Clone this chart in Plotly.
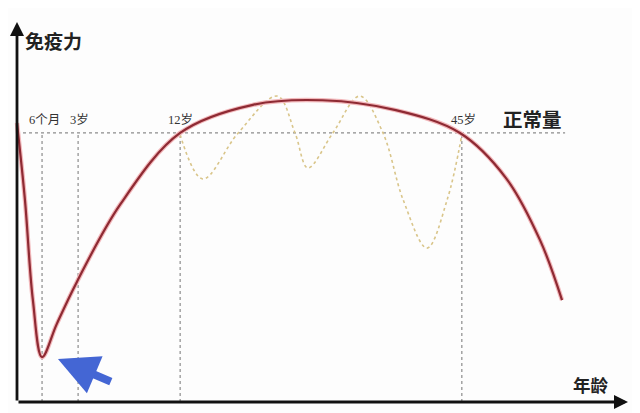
import plotly.graph_objects as go

# --- データ（横軸: 年齢の相対位置 0-100、縦軸: 免疫力 0-100）---

immune_x = [0.0, 1.3, 2.6, 4.1, 6.5, 9.8, 16.9, 26.7, 38.6, 50.0, 62.0, 72.5, 80.0, 85.6, 89.2]
immune_y = [73.4, 53.2, 26.8, 11.8, 20.5, 31.6, 52.0, 70.8, 78.2, 79.4, 76.8, 70.8, 59.0, 42.6, 26.8]

wave_x = [26.7, 30.4, 36.2, 42.6, 45.5, 47.6, 51.7, 56.1, 59.9, 63.2, 67.1, 70.4, 72.8]
wave_y = [70.3, 58.7, 70.8, 80.5, 70.8, 61.6, 70.8, 80.5, 70.8, 53.2, 40.5, 53.2, 70.3]

normal_level = 70.8
normal_end = 89.7

mark_x = [4.1, 10.0, 26.7, 72.8]
mark_labels = ["6个月", "3岁", "12岁", "45岁"]
label_x = [4.5, 10.3, 26.7, 73.0]

FONT_CJK = "Noto Sans CJK SC"
FONT_SERIF = "Liberation Serif, Noto Sans CJK SC"

fig = go.Figure()

# 正常量の点線
fig.add_trace(go.Scatter(
    x=[0, normal_end], y=[normal_level, normal_level],
    mode="lines", line=dict(color="#8c8c8c", width=1.3, dash="dot"),
    hoverinfo="skip", showlegend=False,
))

# 年齢の縦点線
for mx in mark_x:
    fig.add_trace(go.Scatter(
        x=[mx, mx], y=[0, normal_level],
        mode="lines", line=dict(color="#8c8c8c", width=1.2, dash="dot"),
        hoverinfo="skip", showlegend=False,
    ))

# 波動（黄色点線）
fig.add_trace(go.Scatter(
    x=wave_x, y=wave_y,
    mode="lines", line=dict(color="#d9c58a", width=1.6, dash="dot", shape="spline", smoothing=1.0),
    hoverinfo="skip", showlegend=False,
))

# 免疫力曲線
fig.add_trace(go.Scatter(
    x=immune_x, y=immune_y,
    mode="lines", line=dict(color="#f2b8bb", width=4.5, shape="spline", smoothing=1.0),
    hoverinfo="skip", showlegend=False,
))
fig.add_trace(go.Scatter(
    x=immune_x, y=immune_y,
    mode="lines", line=dict(color="#8e2a33", width=2.2, shape="spline", smoothing=1.0),
    hoverinfo="skip", showlegend=False,
))

annotations = []

# 軸（矢印付き）
annotations.append(dict(
    x=0, y=100, ax=0, ay=0, xref="x", yref="y", axref="x", ayref="y",
    showarrow=True, arrowhead=2, arrowsize=1, arrowwidth=2.8, arrowcolor="#111111", text="",
))
annotations.append(dict(
    x=100, y=0, ax=0, ay=0, xref="x", yref="y", axref="x", ayref="y",
    showarrow=True, arrowhead=2, arrowsize=1, arrowwidth=2.8, arrowcolor="#111111", text="",
))

# 青い矢印
annotations.append(dict(
    x=6.7, y=11.3, ax=15.6, ay=5.2, xref="x", yref="y", axref="x", ayref="y",
    showarrow=True, arrowhead=2, arrowsize=1.0, arrowwidth=8, arrowcolor="#4466d4", text="",
))

# 年齢ラベル
for lx, lt in zip(label_x, mark_labels):
    annotations.append(dict(
        x=lx, y=normal_level + 1.0, xref="x", yref="y", text=lt, showarrow=False,
        yanchor="bottom", font=dict(family=FONT_SERIF, size=12.5, color="#333333"),
    ))

annotations.append(dict(
    x=84.4, y=74.5, xref="x", yref="y", text="<b>正常量</b>", showarrow=False,
    font=dict(family=FONT_CJK, size=19.5, color="#222222"),
))
annotations.append(dict(
    x=5.9, y=95.0, xref="x", yref="y", text="<b>免疫力</b>", showarrow=False,
    font=dict(family=FONT_CJK, size=19, color="#222222"),
))
annotations.append(dict(
    x=93.9, y=4.5, xref="x", yref="y", text="<b>年龄</b>", showarrow=False,
    font=dict(family=FONT_CJK, size=17.5, color="#222222"),
))

# ページ本体の 8px 余白を考慮した範囲
fig.update_layout(
    width=632, height=405,
    margin=dict(l=0, r=0, t=0, b=0),
    paper_bgcolor="#fdfdfd", plot_bgcolor="#fdfdfd",
    xaxis=dict(range=[-1.473, 101.96], visible=False, fixedrange=True),
    yaxis=dict(range=[-2.89, 103.68], visible=False, fixedrange=True),
    annotations=annotations,
    showlegend=False,
)

fig.write_html("out.html")
